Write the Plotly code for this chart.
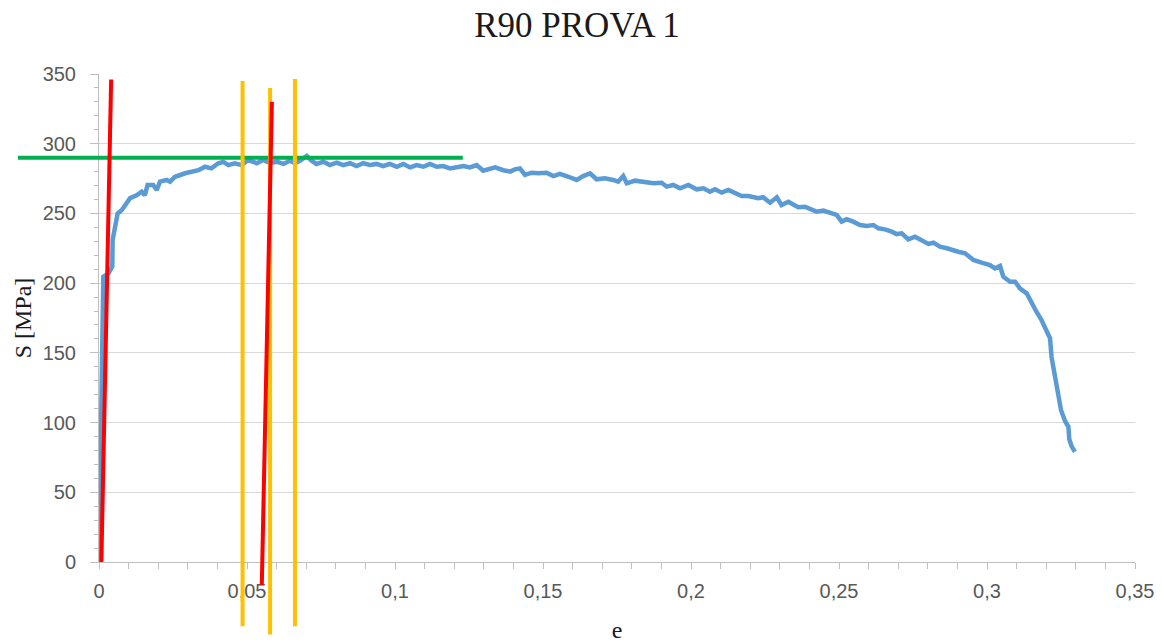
import plotly.graph_objects as go

# ---------------- data ----------------
strain = [0, 0.0007, 0.0011, 0.00146, 0.0032, 0.0045, 0.0046, 0.0054, 0.0063, 0.0077,
          0.0094, 0.0105, 0.0127, 0.0144, 0.0155, 0.0164, 0.0183, 0.0195, 0.0206, 0.0229,
          0.024, 0.0257, 0.0291, 0.0313, 0.0336, 0.0358, 0.038, 0.0403, 0.042, 0.0437,
          0.0459, 0.0482, 0.0504, 0.0533, 0.0555, 0.0578, 0.06, 0.0623, 0.0645, 0.0662,
          0.0679, 0.0702, 0.0718, 0.0735, 0.0758, 0.078, 0.0803, 0.0825, 0.0848, 0.087,
          0.0893, 0.0916, 0.0938, 0.096, 0.0983, 0.1006, 0.1028, 0.1051, 0.1073, 0.1096,
          0.1118, 0.1141, 0.1163, 0.1186, 0.1208, 0.1231, 0.1253, 0.1276, 0.1298, 0.1321,
          0.1338, 0.1366, 0.1389, 0.1405, 0.1422, 0.1439, 0.1462, 0.1484, 0.1512, 0.1535,
          0.1557, 0.1586, 0.1614, 0.1636, 0.1659, 0.1681, 0.1709, 0.1737, 0.1754, 0.1771,
          0.1783, 0.1811, 0.1839, 0.1873, 0.1901, 0.1918, 0.194, 0.1963, 0.1991, 0.2019,
          0.2042, 0.2064, 0.2081, 0.2104, 0.2126, 0.2149, 0.2171, 0.2194, 0.2211, 0.2227,
          0.2244, 0.2267, 0.229, 0.2306, 0.2329, 0.2346, 0.2362, 0.2385, 0.2407, 0.2424,
          0.2447, 0.247, 0.2492, 0.2509, 0.2526, 0.2548, 0.2571, 0.2594, 0.2616, 0.2633,
          0.2655, 0.2678, 0.2695, 0.2712, 0.2734, 0.2757, 0.2779, 0.2802, 0.2819, 0.2841,
          0.2864, 0.2886, 0.2903, 0.2926, 0.2954, 0.2982, 0.301, 0.3027, 0.3044, 0.3055,
          0.3078, 0.3095, 0.3111, 0.3134, 0.3151, 0.3167, 0.3184, 0.3201, 0.3213, 0.3218,
          0.3228, 0.3235, 0.3241, 0.325, 0.3264, 0.3275, 0.3278, 0.3286, 0.3297]
stress = [0, 80, 152, 204.6, 207, 212, 231, 240.5, 250, 252.5,
          257, 261, 263, 265.6, 263, 270.4, 270.4, 266.8, 272.8, 274,
          272.8, 276.3, 278.8, 280, 281, 283.5, 282.3, 286, 287, 284.7,
          286, 284.7, 288.3, 286, 288.3, 286, 287.1, 285.5, 287.8, 286,
          287.8, 291.2, 287.8, 285.5, 287.1, 284.7, 286.4, 284.7, 286, 284,
          286, 284.7, 285.5, 284, 285.5, 283.5, 285.5, 283, 284.7, 283.5,
          285.5, 283.5, 284, 282.3, 283.5, 284, 283, 284.7, 280.6, 281.6,
          283, 281, 280, 281.6, 282.3, 277.6, 279.2, 278.8, 279.2, 276.8,
          278.3, 276.3, 274, 276.8, 278.8, 274.5, 275.2, 274, 272.8, 276.8,
          271.6, 273.5, 272.8, 271.6, 272, 269.2, 270.4, 268, 270.4, 267.3,
          268, 265.6, 267.3, 264.9, 266.8, 264.4, 262.5, 262.5, 261.6, 260.9,
          261.6, 257.7, 261.6, 256, 258.4, 256, 254.4, 254.8, 253, 251.3,
          252, 250.5, 248.9, 244.1, 245.8, 244.1, 241.7, 241, 241.7, 239.3,
          238.6, 236.9, 235.2, 235.7, 231.4, 233.3, 230.9, 228.1, 229, 226.1,
          225, 223.3, 222.5, 221.4, 216.6, 214.7, 213, 210.6, 212.3, 204.6,
          201, 201, 196.3, 192.7, 185.5, 179.5, 173.6, 166.4, 160.4, 147,
          135, 125, 118, 109, 101, 97, 88, 83, 79]

# construction lines (endpoints in data units)
red1_x = [0.0008, 0.0041]
red1_y = [0, 346]
red2_x = [0.0550, 0.0584]
red2_y = [-16.5, 330]
yellow1_x = [0.0485, 0.0485]
yellow1_y = [-46, 345]
yellow2_x = [0.0578, 0.0578]
yellow2_y = [-52, 340]
yellow3_x = [0.0662, 0.0662]
yellow3_y = [-46, 346.5]
green_x = [-0.0274, 0.1229]
green_y = [290, 290]

x_tickvals = [0, 0.05, 0.1, 0.15, 0.2, 0.25, 0.3, 0.35]
x_ticktext = ["0", "0,05", "0,1", "0,15", "0,2", "0,25", "0,3", "0,35"]
y_tickvals = [0, 50, 100, 150, 200, 250, 300, 350]

# ---------------- layout geometry ----------------
W, H = 1165, 643
ML, MR, MT, MB = 10, 10, 60, 3
PX0, PX1 = 99, 1135   # plot area in pixels (x)
PY0, PY1 = 74, 562    # plot area in pixels (y, top / bottom)
XMAX, YMAX = 0.35, 350

pw = W - ML - MR
ph = H - MT - MB
sx = (PX1 - PX0) / XMAX
sy = (PY1 - PY0) / YMAX
xdom = [(PX0 - ML) / pw, (PX1 - ML) / pw]
ydom = [(H - MB - PY1) / ph, (H - MB - PY0) / ph]
x2range = [-(PX0 - ML) / sx, XMAX + (W - MR - PX1) / sx]
y2range = [-(H - MB - PY1) / sy, YMAX + (PY0 - MT) / sy]

axis_grey = "#BFBFBF"
label_grey = "#595959"

fig = go.Figure()
fig.add_trace(go.Scatter(x=strain, y=stress, mode="lines",
                         line=dict(color="#5B9BD5", width=4.5),
                         xaxis="x", yaxis="y", showlegend=False))

def seg(xs, ys, color):
    fig.add_trace(go.Scatter(x=xs, y=ys, mode="lines",
                             line=dict(color=color, width=4),
                             xaxis="x2", yaxis="y2", showlegend=False))

seg(green_x, green_y, "#00B050")
seg(yellow1_x, yellow1_y, "#FFC000")
seg(yellow2_x, yellow2_y, "#FFC000")
seg(yellow3_x, yellow3_y, "#FFC000")
seg(red1_x, red1_y, "#FF0000")
seg(red2_x, red2_y, "#FF0000")

fig.update_layout(
    width=W, height=H,
    margin=dict(l=ML, r=MR, t=MT, b=MB, autoexpand=False),
    paper_bgcolor="white",
    plot_bgcolor="rgba(0,0,0,0)",
    separators=",.",
    showlegend=False,
    title=dict(text="R90 PROVA 1", x=577 / W, xref="container", xanchor="center",
               y=1 - 25 / H, yref="container", yanchor="middle",
               font=dict(family="Liberation Serif", size=35, color="#1a1a1a")),
    xaxis=dict(domain=xdom, range=[0, XMAX], anchor="y",
               tickvals=x_tickvals, ticktext=x_ticktext,
               showgrid=False, zeroline=False,
               showline=True, linecolor=axis_grey, linewidth=1,
               ticks="outside", ticklen=6, tickcolor=axis_grey,
               minor=dict(dtick=0.01, tick0=0, ticks="outside", ticklen=6, tickcolor=axis_grey, showgrid=False),
               tickfont=dict(family="Liberation Sans", size=20, color=label_grey),
               ticklabelstandoff=5,
               title=dict(text="e", standoff=36,
                          font=dict(family="Liberation Serif", size=24, color="#1a1a1a")),
               automargin=False, fixedrange=True),
    yaxis=dict(domain=ydom, range=[0, YMAX], anchor="x",
               tickvals=y_tickvals,
               showgrid=True, gridcolor="#D9D9D9", gridwidth=1, zeroline=False,
               showline=True, linecolor=axis_grey, linewidth=1,
               ticks="outside", ticklen=8, tickcolor=axis_grey,
               minor=dict(dtick=10, tick0=0, ticks="outside", ticklen=4, tickcolor=axis_grey, showgrid=False),
               tickfont=dict(family="Liberation Sans", size=20, color=label_grey),
               ticklabelstandoff=10,
               title=dict(text="S [MPa]", standoff=4,
                          font=dict(family="Liberation Serif", size=24, color="#1a1a1a")),
               automargin=False, fixedrange=True),
    xaxis2=dict(domain=[0, 1], range=x2range, anchor="y2", visible=False, fixedrange=True),
    yaxis2=dict(domain=[0, 1], range=y2range, anchor="x2", visible=False, fixedrange=True),
)

fig.write_html("out.html")
